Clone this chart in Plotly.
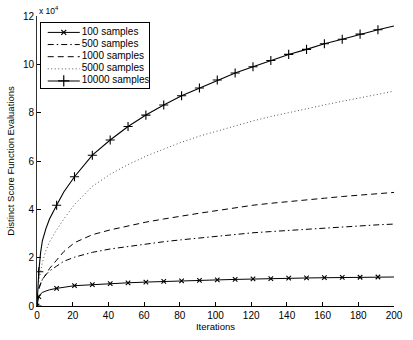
import plotly.graph_objects as go

iters = [0, 1, 2, 3, 5, 7, 11, 15, 21, 31, 41, 51, 61, 71, 81, 91, 101, 111,
         121, 131, 141, 151, 161, 171, 181, 191, 200]
marker_iters = [0, 1, 11, 21, 31, 41, 51, 61, 71, 81, 91, 101, 111, 121, 131,
                141, 151, 161, 171, 181, 191]

s100 = [0, 0.39, 0.50, 0.56, 0.62, 0.67, 0.73, 0.78, 0.84, 0.88, 0.93, 0.96,
        0.99, 1.02, 1.04, 1.06, 1.08, 1.10, 1.12, 1.13, 1.15, 1.16, 1.17, 1.18,
        1.19, 1.20, 1.20]
s500 = [None, 0.70, 0.95, 1.10, 1.30, 1.45, 1.65, 1.85, 2.02, 2.22, 2.36, 2.47,
        2.57, 2.66, 2.74, 2.82, 2.88, 2.96, 3.03, 3.08, 3.13, 3.19, 3.24, 3.28,
        3.32, 3.36, 3.39]
s1000 = [None, 0.75, 0.95, 1.10, 1.30, 1.55, 1.90, 2.25, 2.62, 2.95, 3.15, 3.32,
         3.47, 3.60, 3.73, 3.84, 3.95, 4.07, 4.17, 4.25, 4.33, 4.40, 4.46, 4.53,
         4.59, 4.65, 4.70]
s5000 = [None, 1.00, 1.45, 1.80, 2.30, 2.65, 3.15, 3.60, 4.20, 4.95, 5.45, 5.85,
         6.20, 6.50, 6.78, 7.03, 7.25, 7.46, 7.66, 7.84, 8.01, 8.17, 8.32, 8.47,
         8.62, 8.76, 8.89]
s10000 = [0, 1.42, 2.20, 2.70, 3.20, 3.60, 4.17, 4.72, 5.35, 6.24, 6.87, 7.43,
          7.90, 8.32, 8.70, 9.02, 9.35, 9.64, 9.90, 10.16, 10.41, 10.62, 10.85,
          11.04, 11.25, 11.43, 11.59]

series_names = ["100 samples", "500 samples", "1000 samples", "5000 samples",
                "10000 samples"]

x_ticks = [0, 20, 40, 60, 80, 100, 120, 140, 160, 180, 200]
y_ticks = [0, 2, 4, 6, 8, 10, 12]

FONT = "Liberation Sans, Arial, Helvetica, sans-serif"
BLACK = "#000000"
CLEAR = "rgba(0,0,0,0)"

# style per series: (dash, color, width, marker symbol, plot marker size, legend marker size)
styles = [
    ("solid", BLACK, 1.0, "x-thin", 4.5, 5),
    ("6px,3px,1.5px,3px", BLACK, 1.0, None, 0, 0),
    ("6px,4px", BLACK, 1.0, None, 0, 0),
    ("1px,2.5px", "#555555", 1.0, None, 0, 0),
    ("solid", BLACK, 1.1, "cross-thin", 6.5, 8),
]
data = [s100, s500, s1000, s5000, s10000]


def mk_colors():
    return [BLACK if i in marker_iters else CLEAR for i in iters]


fig = go.Figure()

for name, ys, (dash, col, w, sym, msz, _) in zip(series_names, data, styles):
    tr = dict(x=iters, y=ys, name=name, showlegend=False,
              line=dict(color=col, width=w, dash=dash))
    if sym:
        tr["mode"] = "lines+markers"
        tr["marker"] = dict(symbol=sym, size=msz, color=mk_colors(),
                            line=dict(color=mk_colors(), width=1.1))
    else:
        tr["mode"] = "lines"
    fig.add_trace(go.Scatter(**tr))

# Legend drawn in an inset axes box (rows top to bottom)
legend_rows = [9.5, 21.7, 33.9, 46.1, 58.3]
sample_x = [7, 40]
text_x = 42
for row, name, (dash, col, w, sym, _, lsz) in zip(legend_rows, series_names, styles):
    fig.add_trace(go.Scatter(
        x=sample_x, y=[row, row], mode="lines", xaxis="x2", yaxis="y2",
        line=dict(color=col, width=w, dash=dash), showlegend=False,
        hoverinfo="skip"))
    if sym:
        fig.add_trace(go.Scatter(
            x=[sum(sample_x) / 2], y=[row], mode="markers", xaxis="x2",
            yaxis="y2", marker=dict(symbol=sym, size=lsz, color=BLACK,
                                    line=dict(color=BLACK, width=1.2)),
            showlegend=False, hoverinfo="skip"))
    fig.add_trace(go.Scatter(
        x=[text_x], y=[row], mode="text", text=[name],
        textposition="middle right", xaxis="x2", yaxis="y2",
        textfont=dict(family=FONT, size=10, color=BLACK),
        showlegend=False, hoverinfo="skip"))

fig.update_layout(
    width=413, height=340,
    margin=dict(l=36, r=10, t=16, b=33),
    paper_bgcolor="white", plot_bgcolor="white",
    font=dict(family=FONT, size=10, color=BLACK),
    showlegend=False,
    xaxis=dict(
        range=[0, 200], tickvals=x_ticks, ticktext=[str(v) for v in x_ticks],
        ticks="inside", ticklen=4, tickcolor=BLACK, tickwidth=1,
        showline=True, linecolor=BLACK, linewidth=1, mirror=False,
        showgrid=False, zeroline=False,
        title=dict(text="Iterations", font=dict(size=9.5), standoff=2),
        tickfont=dict(size=10),
    ),
    yaxis=dict(
        range=[0, 12], tickvals=y_ticks, ticktext=[str(v) for v in y_ticks],
        ticks="inside", ticklen=4, tickcolor=BLACK, tickwidth=1,
        showline=True, linecolor="#333333", linewidth=1, mirror=False,
        showgrid=False, zeroline=False,
        title=dict(text="Distinct Score Function Evaluations",
                   font=dict(size=9.5), standoff=6),
        tickfont=dict(size=10),
    ),
    xaxis2=dict(
        domain=[0.011, 0.313], range=[0, 111], anchor="y2",
        showline=True, mirror=True, linecolor=BLACK, linewidth=1.2,
        showticklabels=False, ticks="", showgrid=False, zeroline=False,
        fixedrange=True,
    ),
    yaxis2=dict(
        domain=[0.753, 0.976], range=[65, 0], anchor="x2",
        showline=True, mirror=True, linecolor=BLACK, linewidth=1.2,
        showticklabels=False, ticks="", showgrid=False, zeroline=False,
        fixedrange=True,
    ),
    annotations=[dict(
        text="x 10<sup>4</sup>", xref="paper", yref="paper", x=0.0, y=1.0,
        xanchor="left", yanchor="bottom", showarrow=False,
        font=dict(family=FONT, size=8.5, color=BLACK), xshift=0, yshift=-2,
    )],
)

fig.write_html("out.html")
